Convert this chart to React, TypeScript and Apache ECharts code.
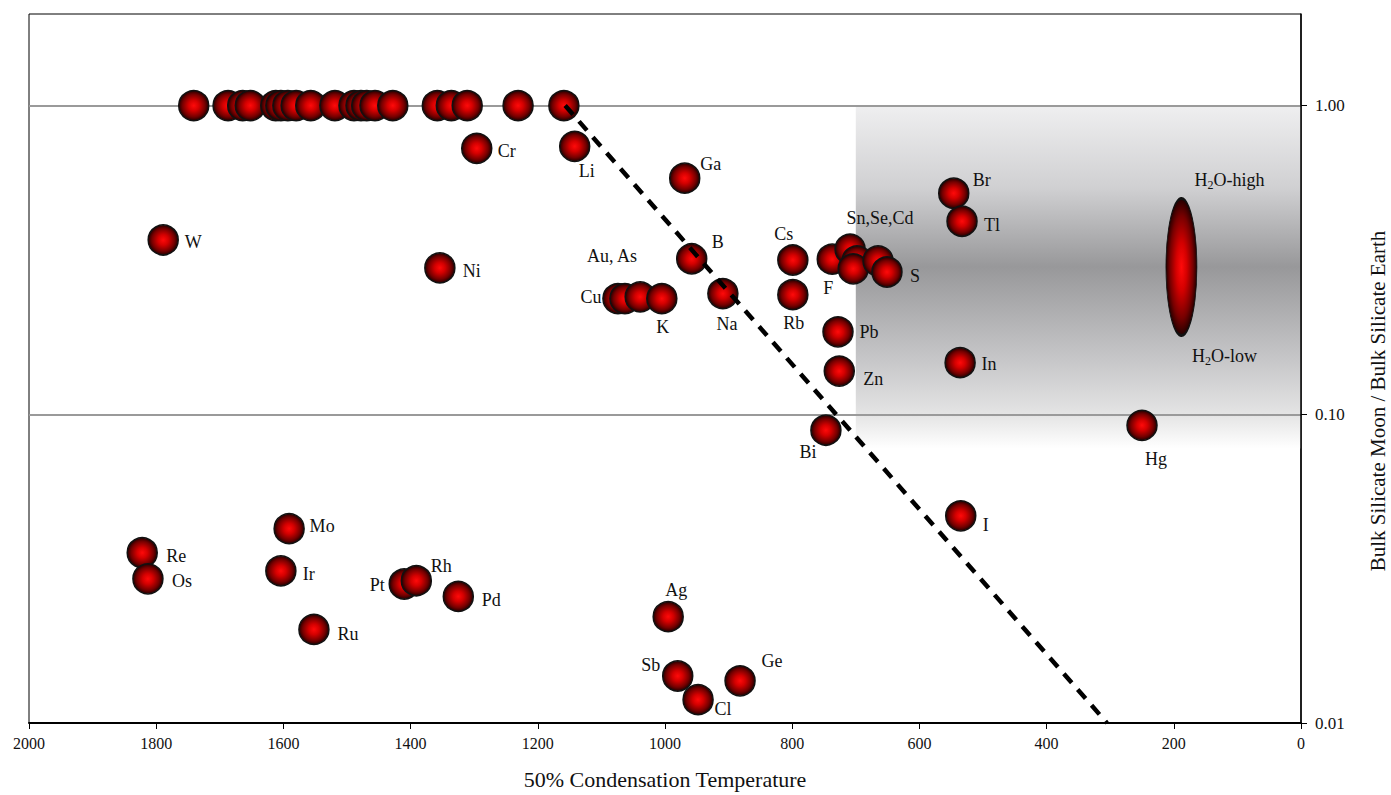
import React, { useEffect, useRef } from 'react';
import * as echarts from 'echarts';

// ---- data ----
// refractory elements plotted at a ratio of 1.00 (unlabelled)
const refractoryTemps = [1741, 1687, 1664, 1652, 1612, 1604, 1593, 1580, 1557, 1519, 1489, 1478, 1469, 1456, 1428, 1358, 1336, 1311, 1231, 1159];
const refractoryRatio = 1.0;

const elementNames = ['Cr', 'Li', 'Ga', 'W', 'Ni', 'B', 'Cu', 'Au', 'As', 'K', 'Na', 'Cs', 'Rb', 'F', 'Sn', 'Se', 'Cd', 'X1', 'S', 'Pb', 'Zn', 'Bi', 'Br', 'Tl', 'In', 'I', 'Hg', 'Re', 'Os', 'Mo', 'Ir', 'Ru', 'Pt', 'Rh', 'Pd', 'Ag', 'Sb', 'Cl', 'Ge'];
const elementTemps = [1296, 1142, 969, 1789, 1354, 958, 1074, 1063, 1039, 1005, 909, 799, 799, 737, 709, 698, 704, 665, 651, 728, 726, 747, 546, 533, 536, 535, 250, 1822, 1813, 1591, 1604, 1552, 1410, 1391, 1325, 995, 980, 948, 882];
const elementRatios = [0.727, 0.738, 0.582, 0.367, 0.298, 0.319, 0.237, 0.237, 0.24, 0.237, 0.246, 0.316, 0.244, 0.318, 0.343, 0.314, 0.296, 0.314, 0.289, 0.185, 0.138, 0.0888, 0.52, 0.422, 0.147, 0.0469, 0.0921, 0.0356, 0.0293, 0.0426, 0.0311, 0.0201, 0.0282, 0.0289, 0.0257, 0.0221, 0.0142, 0.0119, 0.0137];
const elementLabels = ['Cr', 'Li', 'Ga', 'W', 'Ni', 'B', 'Cu', 'Au, As', '', 'K', 'Na', 'Cs', 'Rb', 'F', 'Sn,Se,Cd', '', '', '', 'S', 'Pb', 'Zn', 'Bi', 'Br', 'Tl', 'In', 'I', 'Hg', 'Re', 'Os', 'Mo', 'Ir', 'Ru', 'Pt', 'Rh', 'Pd', 'Ag', 'Sb', 'Cl', 'Ge'];

// water (H2O) range in the Moon
const waterTemp = 188;
const waterMid = 0.3;

// shaded volatile region: [temp from, ratio top, temp to, ratio bottom]
const shadeRegion = [700, 1.0, 0, 0.0775];

// dashed trend line
const trendTemps = [1157, 305];
const trendRatios = [1.0, 0.01];

const xTicks = { min: 0, max: 2000, interval: 200 };
const yRange = { min: 0.01, max: 1.98 };

// ---- layout (pixel label offsets, relative to each marker) ----
const labelOffsets: Record<string, [number, number]> = {
  Cr: [30, 3], Li: [12, 25], Ga: [26, -14], W: [30, 2], Ni: [32, 3], B: [26, -17],
  Cu: [-27, -2], Au: [-13, -43], K: [1, 28], Na: [4, 30], Cs: [-9, -26], Rb: [1, 28],
  F: [-4, 29], Sn: [30, -31], S: [28, 4], Pb: [31, 0], Zn: [34, 8], Bi: [-18, 22],
  Br: [28, -13], Tl: [30, 4], In: [29, 1], I: [25, 9], Hg: [14, 34], Re: [34, 3],
  Os: [34, 2], Mo: [33, -3], Ir: [28, 3], Ru: [34, 5], Pt: [-27, 1], Rh: [25, -15],
  Pd: [33, 4], Ag: [8, -27], Sb: [-27, -11], Cl: [25, 9], Ge: [32, -20],
};

const FONT = '"Liberation Serif", "Times New Roman", serif';

const ball = () => ({
  type: 'radial', x: 0.5, y: 0.5, r: 0.5,
  colorStops: [
    { offset: 0, color: '#ff0a0a' },
    { offset: 0.35, color: '#d40000' },
    { offset: 0.75, color: '#760000' },
    { offset: 1, color: '#220000' },
  ],
});

export default function App() {
  const ref = useRef<HTMLDivElement>(null);
  useEffect(() => {
    document.body.style.margin = '0';
    const chart = echarts.init(ref.current!, null, { renderer: 'svg' });

    const refractoryData = refractoryTemps.map((t) => ({ value: [t, refractoryRatio] }));
    const elementData = elementNames.map((n, i) => {
      const txt = elementLabels[i];
      const item: any = { name: n, value: [elementTemps[i], elementRatios[i]] };
      if (txt) {
        item.label = { show: true, formatter: txt, offset: labelOffsets[n] || [0, 0] };
      }
      return item;
    });

    const sub = { fontSize: 12, fontFamily: FONT, color: '#111', verticalAlign: 'bottom', padding: [9, 0, 0, 0] };

    const option: any = {
      animation: false,
      backgroundColor: '#fff',
      grid: { left: 29, right: 90, top: 14, bottom: 69, show: true, borderColor: '#000', borderWidth: 1, backgroundColor: 'transparent' },
      xAxis: {
        type: 'value', inverse: true, min: xTicks.min, max: xTicks.max, interval: xTicks.interval,
        name: '50% Condensation Temperature', nameLocation: 'middle', nameGap: 45,
        nameTextStyle: { fontFamily: FONT, fontSize: 22, color: '#111' },
        axisLine: { show: true, lineStyle: { color: '#000', width: 2 } },
        axisTick: { show: true, length: 6, lineStyle: { color: '#000', width: 1 } },
        axisLabel: { fontFamily: FONT, fontSize: 16, color: '#111', margin: 12, formatter: (v: number) => String(v) },
        splitLine: { show: false },
      },
      yAxis: {
        type: 'log', logBase: 10, position: 'right', min: yRange.min, max: yRange.max, z: 1.5,
        axisLine: { show: true, lineStyle: { color: '#000', width: 1.5 } },
        axisTick: { show: true, length: 6, lineStyle: { color: '#000', width: 1 } },
        axisLabel: {
          fontFamily: FONT, fontSize: 17, color: '#111', margin: 14, showMaxLabel: false,
          formatter: (v: number) => {
            const l = Math.log10(v);
            return Math.abs(l - Math.round(l)) < 1e-6 ? v.toFixed(2) : '';
          },
        },
        minorTick: { show: false },
        splitLine: { show: true, showMinLine: false, showMaxLine: false, lineStyle: { color: '#9a9a9a', width: 2 } },
      },
      graphic: [
        {
          type: 'text', x: 1378, y: 401, rotation: Math.PI / 2,
          style: { text: 'Bulk Silicate Moon / Bulk Silicate Earth', fontFamily: FONT, fontSize: 21, fill: '#111', align: 'center', verticalAlign: 'middle' },
        },
      ],
      series: [
        {
          type: 'custom', z: 1, silent: true,
          encode: { x: [0, 2], y: [1, 3] },
          data: [shadeRegion],
          renderItem: (params: any, api: any) => {
            const p1 = api.coord([api.value(0), api.value(1)]);
            const p2 = api.coord([api.value(2), api.value(3)]);
            return {
              type: 'rect',
              shape: { x: Math.min(p1[0], p2[0]), y: Math.min(p1[1], p2[1]), width: Math.abs(p2[0] - p1[0]), height: Math.abs(p2[1] - p1[1]) },
              style: {
                fill: new echarts.graphic.LinearGradient(0, 0, 0, 1, [
                  { offset: 0, color: '#efeff0' },
                  { offset: 0.24, color: '#d0d0d2' },
                  { offset: 0.47, color: '#98989a' },
                  { offset: 0.75, color: '#c8c8ca' },
                  { offset: 0.9, color: '#e4e4e4' },
                  { offset: 1, color: '#ffffff' },
                ]),
              },
            };
          },
        },
        {
          type: 'scatter', z: 2, symbol: 'circle', symbolSize: 30,
          itemStyle: { color: ball(), borderColor: '#111', borderWidth: 1.5, opacity: 1 },
          label: { show: false, position: 'inside', fontFamily: FONT, fontSize: 18, color: '#111' },
          data: [...refractoryData, ...elementData],
        },
        {
          type: 'scatter', z: 2, symbol: 'circle', symbolSize: [31, 137],
          itemStyle: { color: ball(), borderColor: '#111', borderWidth: 1.5, opacity: 1 },
          label: { show: true, position: 'inside', fontFamily: FONT, fontSize: 18, color: '#111', rich: { s: sub } },
          data: [
            { value: [waterTemp, waterMid], label: { formatter: 'H{s|2}O-high', offset: [48, -87] } },
            {
              value: [waterTemp, waterMid], symbolSize: 2,
              itemStyle: { color: 'rgba(0,0,0,0)', borderWidth: 0 },
              label: { formatter: 'H{s|2}O-low', offset: [43, 89] },
            },
          ],
        },
        {
          type: 'line', z: 3, symbol: 'none', silent: true,
          lineStyle: { color: '#000', width: 4.5, type: [12, 9] },
          data: trendTemps.map((t, i) => [t, trendRatios[i]]),
        },
      ],
    };
    chart.setOption(option);
    return () => chart.dispose();
  }, []);
  return <div ref={ref} style={{ width: 1391, height: 795 }} />;
}
